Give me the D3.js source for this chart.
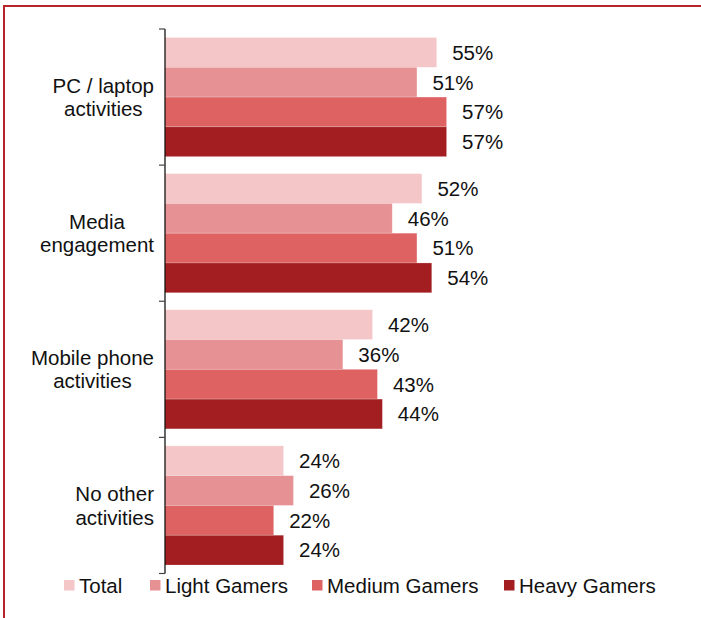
<!DOCTYPE html>
<html>
<head>
<meta charset="utf-8">
<script src="https://cdn.jsdelivr.net/npm/d3@7.9.0/dist/d3.min.js"></script>
<style>
  body { margin: 0; background: #fff; }
  svg { display: block; font-family: "Liberation Sans", Arial, sans-serif; }
</style>
</head>
<body>
<svg id="chart" width="701" height="618"></svg>
<script>
// chart data
const categories = [['PC / laptop', 'activities'], ['Media', 'engagement'], ['Mobile phone', 'activities'], ['No other', 'activities']];
const seriesNames = ['Total', 'Light Gamers', 'Medium Gamers', 'Heavy Gamers'];
const total = [55, 52, 42, 24];
const light = [51, 46, 36, 26];
const medium = [57, 51, 43, 22];
const heavy = [57, 54, 44, 24];
const seriesColors = ['#f5c6c8', '#e69294', '#de6262', '#a21e21'];

const series = [total, light, medium, heavy];
const svg = d3.select('#chart');
const fontSize = 20.5;

// frame lines (top + left)
svg.append('rect').attr('x', 3).attr('y', 5).attr('width', 698).attr('height', 2).attr('fill', '#b5252a');
svg.append('rect').attr('x', 3).attr('y', 5).attr('width', 2).attr('height', 613).attr('fill', '#b5252a');

const catIdx = d3.range(categories.length);
let y = d3.scaleBand().domain(catIdx).range([29, 573.5]).padding(0);
let inner = d3.scaleBand().domain(d3.range(series.length)).range([8.5, y.bandwidth() - 8.5]).padding(0);
let x = d3.scaleLinear().domain([0, 60]).range([165, 461.4]);

// bars
catIdx.forEach((c) => {
  series.forEach((vals, s) => {
    svg.append('rect')
      .attr('x', x(0))
      .attr('y', y(c) + inner(s))
      .attr('width', x(vals[c]) - x(0))
      .attr('height', inner.bandwidth())
      .attr('fill', seriesColors[s])
      .attr('stroke', '#fff')
      .attr('stroke-opacity', 0.35)
      .attr('stroke-width', 0.6);

    svg.append('text')
      .attr('x', x(vals[c]) + 15.5)
      .attr('y', y(c) + inner(s) + inner.bandwidth() / 2)
      .attr('dy', '0.36em')
      .attr('font-size', fontSize)
      .attr('fill', '#111')
      .text(vals[c] + '%');
  });
});

// category axis with ticks at band boundaries
svg.append('line')
  .attr('x1', x(0)).attr('x2', x(0))
  .attr('y1', y.range()[0]).attr('y2', y.range()[1])
  .attr('stroke', '#000').attr('stroke-width', 1.2);
const bounds = catIdx.map((c) => y(c)).concat([y.range()[1]]);
bounds.forEach((b) => {
  svg.append('line')
    .attr('x1', x(0) - 6).attr('x2', x(0))
    .attr('y1', b).attr('y2', b)
    .attr('stroke', '#444').attr('stroke-width', 1.2);
});

// category labels: block right-aligned, lines centred within it
const labelRight = 154;
catIdx.forEach((c) => {
  const lines = categories[c];
  const g = svg.append('g');
  const texts = lines.map((line, i) =>
    g.append('text')
      .attr('y', y(c) + y.bandwidth() / 2 + (i - (lines.length - 1) / 2) * 23.5)
      .attr('dy', '0.36em')
      .attr('font-size', fontSize)
      .attr('fill', '#111')
      .attr('text-anchor', 'middle')
      .text(line)
  );
  const maxW = d3.max(texts, (t) => t.node().getComputedTextLength());
  texts.forEach((t) => t.attr('x', labelRight - maxW / 2));
});

// legend
const legendX = [64, 150, 312, 504];
seriesNames.forEach((name, i) => {
  svg.append('rect')
    .attr('x', legendX[i]).attr('y', 580)
    .attr('width', 10.5).attr('height', 10.5)
    .attr('fill', seriesColors[i]);
  svg.append('text')
    .attr('x', legendX[i] + 15)
    .attr('y', 585.5)
    .attr('dy', '0.36em')
    .attr('font-size', fontSize)
    .attr('fill', '#111')
    .text(name);
});
</script>
</body>
</html>
